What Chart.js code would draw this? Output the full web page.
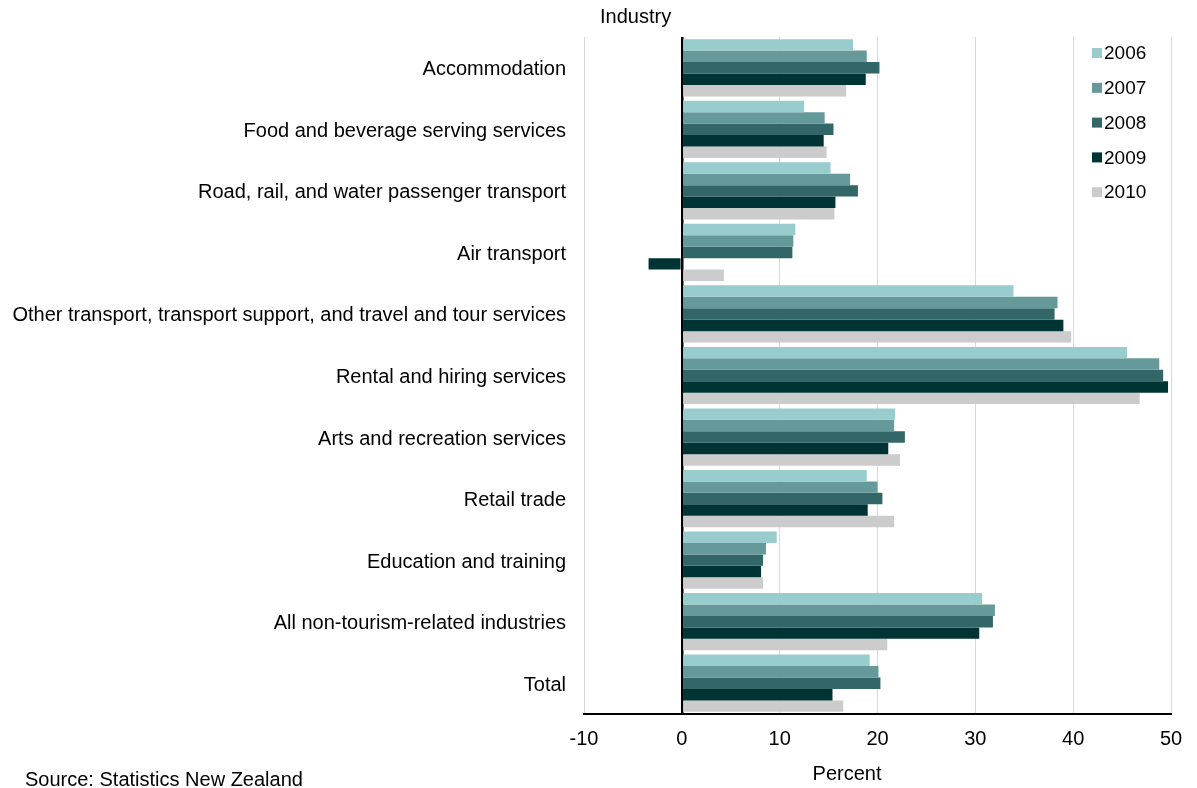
<!DOCTYPE html>
<html>
<head>
<meta charset="utf-8">
<script src="https://cdn.jsdelivr.net/npm/chart.js@4.4.1/dist/chart.umd.min.js"></script>
<style>
  html, body { margin: 0; padding: 0; background: #fff; }
  #wrap { width: 1197px; height: 788px; }
</style>
</head>
<body>
<div id="wrap"><canvas id="c" width="1197" height="788"></canvas></div>
<script>
// Industries (y-axis categories)
const categories = [
  "Accommodation",
  "Food and beverage serving services",
  "Road, rail, and water passenger transport",
  "Air transport",
  "Other transport, transport support, and travel and tour services",
  "Rental and hiring services",
  "Arts and recreation services",
  "Retail trade",
  "Education and training",
  "All non-tourism-related industries",
  "Total"
];

// Percent values per year
const values2006 = [17.5, 12.5, 15.2, 11.6, 33.9, 45.5, 21.8, 18.9, 9.7, 30.7, 19.2];
const values2007 = [18.9, 14.6, 17.2, 11.4, 38.4, 48.8, 21.7, 20.0, 8.6, 32.0, 20.1];
const values2008 = [20.2, 15.5, 18.0, 11.3, 38.1, 49.2, 22.8, 20.5, 8.3, 31.8, 20.3];
const values2009 = [18.8, 14.5, 15.7, -3.4, 39.0, 49.7, 21.1, 19.0, 8.1, 30.4, 15.4];
const values2010 = [16.8, 14.8, 15.6, 4.3, 39.8, 46.8, 22.3, 21.7, 8.3, 21.0, 16.5];

const years = ["2006", "2007", "2008", "2009", "2010"];
const yearValues = [values2006, values2007, values2008, values2009, values2010];
const yearColors = ["#99CCCC", "#669999", "#336666", "#003333", "#CCCCCC"];

// Percent axis range and step
const xMin = -10;
const xMax = 50;
const xStep = 10;

const FONT = "'Liberation Sans', Arial, sans-serif";

const datasets = years.map((y, i) => ({
  label: y,
  data: yearValues[i],
  backgroundColor: yearColors[i],
  borderWidth: 0,
  categoryPercentage: 0.93,
  barPercentage: 1.0
}));

// Draws the axis captions, source note and the in-plot legend
const annotations = {
  id: "annotations",
  afterDraw(chart) {
    const ctx = chart.ctx;
    ctx.save();
    ctx.fillStyle = "#000";
    ctx.font = "20px " + FONT;
    ctx.textBaseline = "middle";

    ctx.textAlign = "left";
    ctx.fillText("Industry", 600, 17);
    ctx.fillText("Source: Statistics New Zealand", 25, 780);

    ctx.textAlign = "center";
    ctx.fillText("Percent", 847, 774);

    // legend
    ctx.textAlign = "left";
    ctx.font = "19px " + FONT;
    chart.data.datasets.forEach((ds, i) => {
      const cy = 53 + i * 34.8;
      ctx.fillStyle = ds.backgroundColor;
      ctx.fillRect(1092, cy - 5, 10, 10);
      ctx.fillStyle = "#000";
      ctx.fillText(ds.label, 1104, cy + 1);
    });
    ctx.restore();
  }
};

new Chart(document.getElementById("c"), {
  type: "bar",
  data: { labels: categories, datasets },
  options: {
    indexAxis: "y",
    responsive: false,
    animation: false,
    layout: { padding: { top: 37, right: 26, left: 0, bottom: 0 } },
    plugins: {
      legend: { display: false },
      tooltip: { enabled: false }
    },
    scales: {
      x: {
        min: xMin,
        max: xMax,
        z: 1,
        ticks: {
          stepSize: xStep,
          color: "#000",
          font: { family: FONT, size: 20 },
          padding: 13
        },
        grid: {
          drawTicks: false,
          color: (c) => (c.tick && c.tick.value === 0 ? "#000" : "rgba(0,0,0,0.15)"),
          lineWidth: (c) => (c.tick && c.tick.value === 0 ? 2.5 : 1)
        },
        border: { color: "#000", width: 2 },
        afterFit: (s) => { s.height = 74; }
      },
      y: {
        ticks: {
          color: "#000",
          font: { family: FONT, size: 20 },
          padding: 18,
          labelOffset: 2,
          autoSkip: false
        },
        grid: { display: false, drawTicks: false },
        border: { display: false },
        afterFit: (s) => { s.width = 584; }
      }
    }
  },
  plugins: [annotations]
});
</script>
</body>
</html>
